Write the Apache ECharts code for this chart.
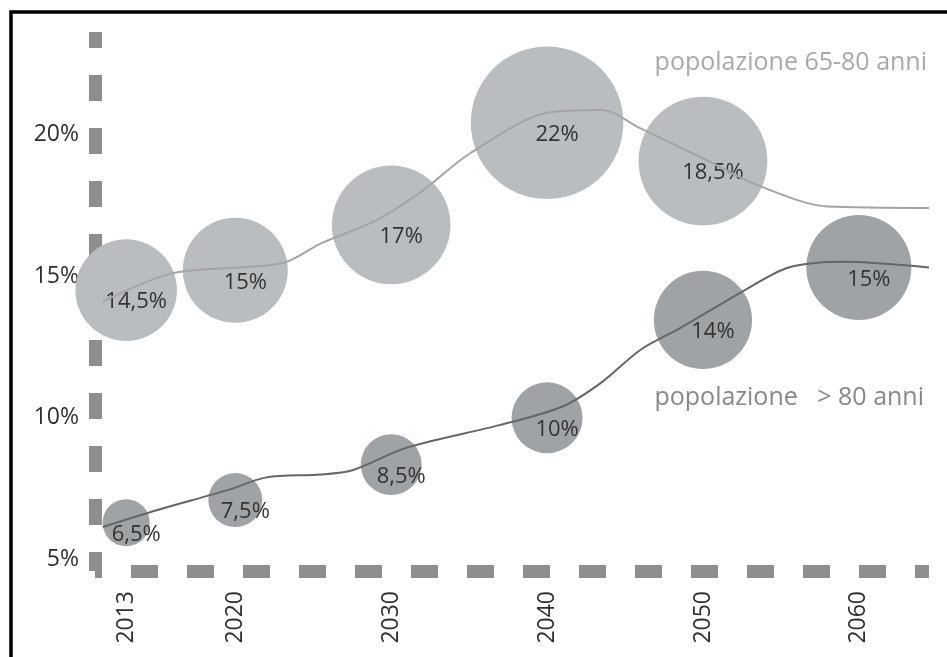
<!DOCTYPE html>
<html>
<head>
<meta charset="utf-8">
<script src="https://cdn.jsdelivr.net/npm/echarts@6/dist/echarts.min.js"></script>
<style>
  html, body { margin: 0; padding: 0; background: #fff; }
  #chart { width: 947px; height: 657px; }
</style>
</head>
<body>
<div id="chart"></div>
<script>
// tick labels
const yearTicks = [2013, 2020, 2030, 2040, 2050, 2060];
const pctTicks = [5, 10, 15, 20];

// popolazione 65-80 anni: printed value and height of the bubble on the axis
const years6580 = [2013, 2020, 2030, 2040, 2050];
const pct6580 = [14.5, 15, 17, 22, 18.5];
const level6580 = [14.5, 15.2, 16.8, 20.4, 19.05];

// popolazione > 80 anni
const years80 = [2013, 2020, 2030, 2040, 2050, 2060];
const pct80 = [6.5, 7.5, 8.5, 10, 14, 15];
const level80 = [6.3, 7.1, 8.35, 10.0, 13.45, 15.3];

// trend lines
const trendYears6580 = [2011.5, 2016, 2023, 2025.5, 2029, 2032, 2035, 2040, 2043.5, 2046, 2050, 2053.5, 2058, 2064.5];
const trend6580 = [14.1, 15.1, 15.45, 16.15, 16.95, 18.0, 19.3, 20.75, 20.85, 20.2, 19.15, 18.2, 17.45, 17.4];
const trendYears80 = [2011.5, 2015, 2019.5, 2022, 2025.5, 2027.5, 2031, 2037, 2041, 2043.5, 2046, 2048.5, 2053, 2055.5, 2059, 2064.5];
const trend80 = [6.15, 6.75, 7.45, 7.9, 8.0, 8.15, 8.95, 9.75, 10.4, 11.25, 12.4, 13.15, 14.6, 15.3, 15.5, 15.3];

function pairs(xs, ys) {
  return xs.map((x, i) => [x, ys[i]]);
}
function bubbles(xs, levels, pcts) {
  return xs.map((x, i) => [x, levels[i], pcts[i]]);
}
function pctText(v) {
  return String(v).replace(".", ",") + "%";
}

const font = "'Open Sans', sans-serif";
const bubbleLabel = {
  show: true,
  position: "inside",
  offset: [10, 12],
  formatter: p => pctText(p.value[2]),
  fontFamily: font,
  fontSize: 22,
  color: "#333"
};

let myChart = echarts.init(document.getElementById("chart"));
myChart.setOption({
  animation: false,
  backgroundColor: "#fff",
  grid: { left: 95, right: 18, top: 32, bottom: 86 },
  xAxis: {
    type: "value",
    min: 2011,
    max: 2064.5,
    splitLine: { show: false },
    axisTick: { show: false },
    axisLine: {
      show: true,
      onZero: false,
      lineStyle: { color: "#8e8e8e", width: 13, type: [27, 29], dashOffset: 20, cap: "butt" }
    },
    axisLabel: {
      customValues: yearTicks,
      formatter: v => String(v),
      rotate: 90,
      margin: 20,
      fontFamily: font,
      fontSize: 23,
      color: "#2e2e2e"
    }
  },
  yAxis: {
    type: "value",
    min: 4.6,
    max: 23.6,
    splitLine: { show: false },
    axisTick: { show: false },
    axisLine: {
      show: true,
      onZero: false,
      lineStyle: { color: "#8e8e8e", width: 13, type: [26, 27], dashOffset: 7, cap: "butt" }
    },
    axisLabel: {
      customValues: pctTicks,
      formatter: "{value}%",
      margin: 16,
      fontFamily: font,
      fontSize: 23,
      color: "#2e2e2e"
    }
  },
  series: [
    {
      name: "65-80 bubbles",
      type: "scatter",
      z: 2,
      data: bubbles(years6580, level6580, pct6580),
      symbolSize: v => v[2] * 6.8 + 3,
      itemStyle: { color: "#b9bdc0", opacity: 1 },
      label: bubbleLabel
    },
    {
      name: "80 bubbles",
      type: "scatter",
      z: 2,
      data: bubbles(years80, level80, pct80),
      symbolSize: v => v[2] * 6.8 + 3,
      itemStyle: { color: "#a0a3a6", opacity: 1 },
      label: bubbleLabel
    },
    {
      name: "popolazione 65-80 anni",
      type: "line",
      z: 3,
      smooth: 0.3,
      symbol: "none",
      data: pairs(trendYears6580, trend6580),
      lineStyle: { color: "#a4a4a4", width: 2 }
    },
    {
      name: "popolazione > 80 anni",
      type: "line",
      z: 3,
      smooth: 0.3,
      symbol: "none",
      data: pairs(trendYears80, trend80),
      lineStyle: { color: "#666", width: 2 }
    }
  ],
  graphic: [
    {
      type: "rect",
      shape: { x: 11, y: 12, width: 1000, height: 700 },
      style: { fill: "none", stroke: "#000", lineWidth: 3.5 }
    },
    {
      type: "text",
      right: 20,
      top: 50,
      style: { text: "popolazione 65-80 anni", fill: "#a9a9a9", font: "25px " + font }
    },
    {
      type: "text",
      right: 23,
      top: 385,
      style: { text: "popolazione   > 80 anni", fill: "#888", font: "25px " + font }
    }
  ]
});
</script>
</body>
</html>
